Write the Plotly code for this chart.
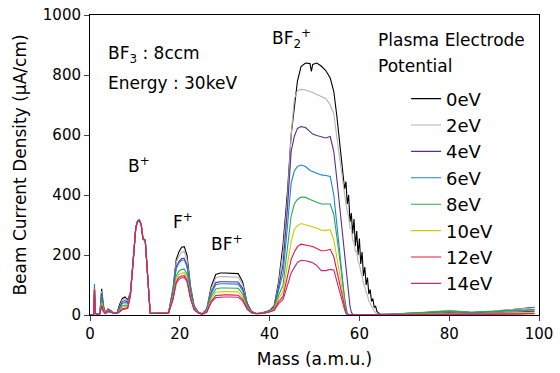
import plotly.graph_objects as go

# ---- data ----
mass = [0, 0.8, 1.0, 1.2, 1.6, 2.2, 2.6, 3.0, 3.4, 4.0, 4.6, 5.2, 6.0, 6.6, 7.2, 7.8, 8.4, 9.0, 9.6, 10.2,
        10.6, 11.0, 11.4, 11.8, 12.3, 12.9, 13.4, 14,
        16, 17.5, 18.5, 19.2, 19.8, 20.4, 21.0, 21.6, 22.4, 23.2, 24.2, 25.0, 26.0, 27, 28, 29, 30, 31, 32,
        33, 34, 35, 36, 37, 38.5,
        40, 41, 42, 43, 44, 44.8, 45.5, 46.2, 47, 48, 49, 49.3, 49.6, 50.5, 51.5, 52.5, 53.5, 54.3, 55.0, 55.7,
        56.4, 56.7, 57.0, 57.3, 57.6, 57.9, 58.2, 58.5, 58.8, 59.1, 59.4, 59.7, 60.0, 60.3, 60.6, 60.9,
        61.2, 61.5, 61.8, 62.1, 62.4, 62.7, 63.0, 63.3, 63.6, 63.9, 64.2, 64.6,
        66, 70, 75, 80, 85, 90, 95, 99]

ev0 = [0, 0, 60, 5, 2, 5, 87, 30, 8, 20, 15, 8, 6, 35, 55, 60, 50, 75, 175, 292, 312, 315, 302, 255, 250, 115, 8, 6,
       6, 8, 90, 185, 210, 226, 228, 200, 95, 30, 8, 4, 20, 95, 135, 140, 140, 140, 140, 138, 110, 40, 12, 5, 8,
       15, 30, 110, 235, 415, 600, 690, 780, 828, 840, 838, 812, 835, 840, 830, 815, 790, 745, 660, 560,
       470, 420, 445, 370, 400, 310, 340, 270, 320, 230, 280, 200, 255, 170, 210, 130, 160, 100, 125, 70,
       85, 45, 55, 25, 30, 12, 8, 2,
       2, 4, 8, 14, 8, 12, 20, 26]
ev2 = [0, 0, 70, 5, 2, 5, 80, 28, 8, 18, 14, 8, 6, 30, 50, 55, 46, 72, 172, 292, 313, 316, 302, 255, 250, 115, 8, 6,
       6, 8, 85, 175, 196, 210, 211, 185, 88, 28, 8, 4, 18, 88, 123, 128, 128, 128, 128, 126, 100, 37, 11, 5, 7,
       14, 27, 100, 210, 390, 600, 720, 748, 752, 750, 745, 744, 742, 735, 728, 722, 700, 670, 590, 510,
       420, 395, 370, 345, 330, 290, 290, 250, 240, 210, 215, 180, 170, 145, 130, 105, 95, 75, 65, 45,
       40, 28, 20, 12, 8, 5, 3, 1,
       2, 5, 10, 16, 9, 14, 20, 24]
ev4 = [0, 0, 80, 5, 2, 5, 72, 25, 7, 17, 13, 7, 6, 25, 44, 48, 42, 70, 170, 292, 313, 316, 302, 254, 249, 115, 7, 6,
       6, 8, 78, 160, 178, 188, 189, 166, 80, 26, 7, 4, 16, 76, 108, 111, 111, 111, 111, 110, 88, 33, 10, 5, 6,
       13, 25, 90, 170, 360, 545, 595, 622, 628, 625, 610, 606, 603, 598, 593, 590, 595, 545, 450, 350,
       230, 185, 140, 100, 60, 30, 10, 2, 1, 1, 1, 1, 1, 1, 1, 1,
       1, 1, 1, 1, 1, 1, 1, 1, 1, 1, 1, 1,
       2, 3, 5, 8, 5, 7, 10, 12]
ev6 = [0, 0, 103, 5, 2, 5, 65, 22, 7, 16, 12, 7, 6, 22, 38, 42, 38, 70, 170, 293, 315, 318, 303, 255, 250, 115, 7, 6,
       6, 8, 75, 155, 173, 182, 184, 161, 77, 25, 7, 4, 15, 72, 101, 104, 104, 104, 104, 103, 82, 31, 10, 5, 6,
       13, 24, 80, 140, 300, 440, 480, 495, 500, 495, 482, 480, 478, 472, 467, 465, 462, 400, 290, 180,
       95, 55, 25, 5, 1, 1, 1, 1, 1, 1, 1, 1, 1, 1, 1, 1,
       1, 1, 1, 1, 1, 1, 1, 1, 1, 1, 1, 1,
       1, 5, 9, 12, 8, 11, 15, 18]
ev8 = [0, 0, 90, 5, 2, 5, 50, 18, 6, 14, 11, 7, 5, 17, 30, 33, 32, 68, 168, 291, 313, 316, 302, 254, 249, 115, 7, 6,
       6, 7, 65, 130, 146, 152, 153, 135, 65, 22, 7, 4, 13, 62, 87, 90, 90, 90, 90, 89, 70, 27, 9, 5, 5,
       12, 22, 65, 100, 230, 330, 370, 385, 393, 392, 385, 383, 382, 376, 370, 370, 370, 335, 260, 180,
       90, 50, 20, 3, 1, 1, 1, 1, 1, 1, 1, 1, 1, 1, 1, 1,
       1, 1, 1, 1, 1, 1, 1, 1, 1, 1, 1, 1,
       1, 5, 9, 13, 9, 12, 15, 17]
ev10 = [0, 0, 88, 5, 2, 5, 40, 15, 6, 13, 10, 6, 5, 14, 25, 28, 28, 66, 166, 290, 312, 315, 301, 253, 248, 114, 7, 5,
        6, 7, 60, 120, 135, 140, 141, 124, 60, 20, 6, 4, 12, 54, 76, 78, 78, 78, 78, 77, 61, 24, 8, 4, 5,
        11, 20, 55, 78, 170, 245, 285, 298, 305, 302, 297, 295, 294, 290, 283, 282, 284, 250, 190, 128,
        60, 32, 10, 2, 1, 1, 1, 1, 1, 1, 1, 1, 1, 1, 1, 1,
        1, 1, 1, 1, 1, 1, 1, 1, 1, 1, 1, 1,
        1, 2, 4, 6, 4, 5, 7, 9]
ev12 = [0, 0, 87, 5, 2, 4, 32, 12, 5, 12, 10, 6, 5, 12, 20, 22, 24, 65, 165, 290, 312, 315, 301, 253, 248, 113, 6, 5,
        5, 7, 55, 110, 125, 130, 131, 116, 56, 18, 6, 3, 10, 46, 65, 67, 67, 67, 67, 66, 53, 21, 8, 4, 5,
        10, 17, 45, 62, 130, 185, 210, 228, 236, 234, 230, 229, 228, 222, 214, 215, 219, 194, 145, 94,
        45, 24, 8, 2, 1, 1, 1, 1, 1, 1, 1, 1, 1, 1, 1, 1,
        1, 1, 1, 1, 1, 1, 1, 1, 1, 1, 1, 1,
        0, 1, 2, 3, 2, 3, 4, 5]
ev14 = [0, 0, 85, 5, 2, 4, 28, 11, 5, 11, 9, 6, 5, 10, 18, 20, 22, 64, 164, 289, 311, 314, 300, 252, 248, 113, 6, 5,
        5, 6, 52, 105, 119, 124, 125, 111, 53, 17, 6, 3, 9, 42, 58, 60, 60, 60, 60, 59, 47, 19, 7, 4, 5,
        10, 15, 38, 52, 100, 140, 158, 175, 182, 181, 177, 175, 174, 165, 148, 148, 152, 150, 110, 72,
        35, 18, 6, 1, 1, 1, 1, 1, 1, 1, 1, 1, 1, 1, 1, 1,
        1, 1, 1, 1, 1, 1, 1, 1, 1, 1, 1, 1,
        0, 1, 1, 2, 2, 2, 3, 4]

labels = ["0eV", "2eV", "4eV", "6eV", "8eV", "10eV", "12eV", "14eV"]
series = [ev0, ev2, ev4, ev6, ev8, ev10, ev12, ev14]
colors = ["#000000", "#b4b4b4", "#5a2d91", "#1e82d2", "#28aa55", "#d6c800", "#e8183c", "#c8287a"]

x_ticks = [0, 20, 40, 60, 80, 100]
y_ticks = [0, 200, 400, 600, 800, 1000]

FONT = "DejaVu Sans, Arial, sans-serif"

fig = go.Figure()
for lab, ys, col in zip(labels, series, colors):
    assert len(ys) == len(mass), (lab, len(ys), len(mass))
    fig.add_trace(go.Scatter(x=mass, y=ys, mode="lines", name=lab,
                             line=dict(color=col, width=1.1)))

fig.update_layout(
    width=560, height=373,
    margin=dict(l=90, r=21, t=15, b=58, autoexpand=False),
    paper_bgcolor="white", plot_bgcolor="white",
    font=dict(family=FONT, size=16, color="black"),
    showlegend=True,
    legend=dict(x=0.704, y=0.782, xanchor="left", yanchor="top",
                bgcolor="rgba(0,0,0,0)", font=dict(size=18),
                tracegroupgap=0, itemwidth=30),
    xaxis=dict(range=[0, 100], tickvals=x_ticks, ticks="outside", ticklen=5,
               showline=True, linecolor="black", linewidth=1, mirror=True,
               showgrid=False, zeroline=False, automargin=False,
               title=dict(text="Mass (a.m.u.)", standoff=11, font=dict(size=17)),
               tickfont=dict(size=15)),
    yaxis=dict(range=[0, 1000], tickvals=y_ticks, ticks="outside", ticklen=5,
               showline=True, linecolor="black", linewidth=1, mirror=True,
               showgrid=False, zeroline=False, automargin=False,
               title=dict(text="Beam Current Density (μA/cm)", standoff=11, font=dict(size=17)),
               tickfont=dict(size=15)),
)

ann = [
    ("BF<sub>3</sub> : 8ccm", 106, 55),
    ("Energy : 30keV", 106, 83),
    ("Plasma Electrode", 376, 40),
    ("Potential", 376, 66),
    ("B<sup>+</sup>", 126, 165),
    ("F<sup>+</sup>", 171, 221),
    ("BF<sup>+</sup>", 209, 243),
    ("BF<sub>2</sub><sup>+</sup>", 270, 39),
]
for text, px, py in ann:
    fig.add_annotation(text=text, xref="paper", yref="paper",
                       x=(px - 90) / 449, y=(315 - py) / 300,
                       xanchor="left", yanchor="middle", showarrow=False,
                       font=dict(size=17, family=FONT))

fig.write_html("out.html")
